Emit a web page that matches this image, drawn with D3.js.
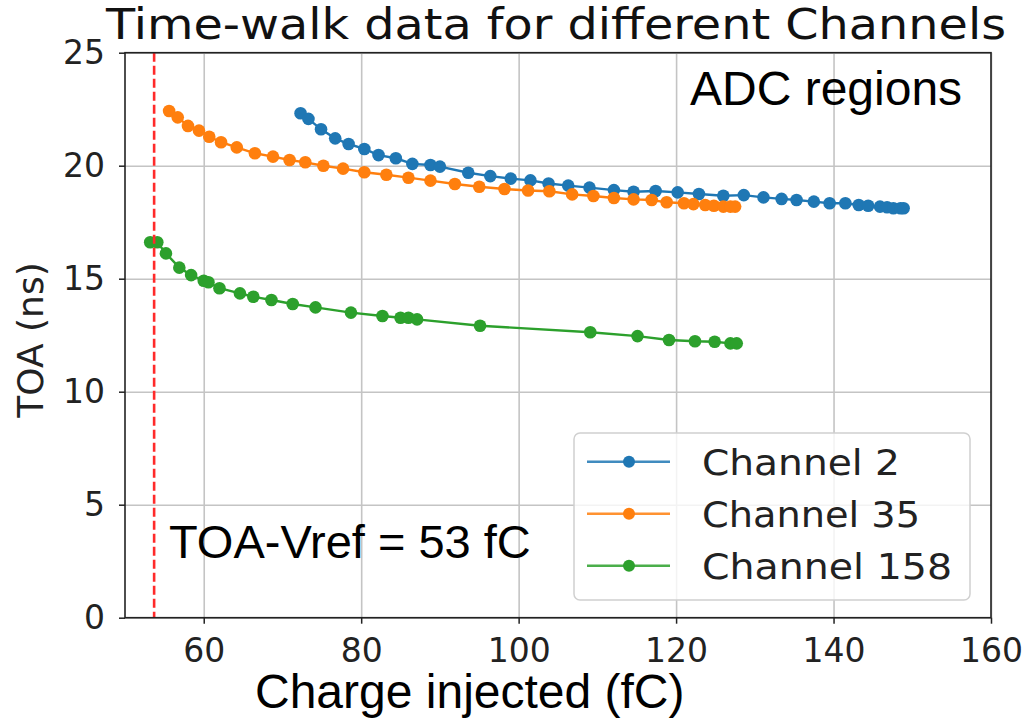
<!DOCTYPE html>
<html>
<head>
<meta charset="utf-8">
<script src="https://cdn.jsdelivr.net/npm/d3@7"></script>
<style>
  body { margin: 0; background: #fff; }
  svg { display: block; }
</style>
</head>
<body>
<svg id="chart" width="1029" height="720"></svg>
<script>
/* ── DATA ── */
const ch2Q = [72.3, 73.3, 74.9, 76.7, 78.4, 80.4, 82.2, 84.4, 86.5, 88.8, 90.0, 93.6, 96.4, 99.0, 101.5, 103.8,
  106.3, 109.0, 112.1, 114.6, 117.4, 120.2, 122.9, 126.0, 128.6, 131.1, 133.4, 135.3, 137.5, 139.5, 141.5,
  143.2, 144.4, 145.9, 146.8, 147.6, 148.5, 148.9];
const ch2T = [22.32, 22.07, 21.61, 21.21, 20.96, 20.74, 20.47, 20.33, 20.08, 20.03, 19.96, 19.69, 19.54, 19.43, 19.35, 19.21,
  19.12, 19.03, 18.92, 18.85, 18.88, 18.82, 18.75, 18.67, 18.70, 18.60, 18.53, 18.48, 18.41, 18.34, 18.34,
  18.26, 18.23, 18.19, 18.16, 18.12, 18.12, 18.12];

const ch35Q = [55.6, 56.7, 58.0, 59.4, 60.7, 62.2, 64.2, 66.5, 68.8, 70.9, 72.9, 75.2, 77.7, 80.4, 83.2, 86.0,
  88.8, 91.9, 95.0, 98.2, 101.2, 103.9, 106.8, 109.5, 112.1, 114.6, 116.9, 118.8, 121.0, 122.2, 123.7,
  124.8, 126.0, 126.9, 127.5];
const ch35T = [22.42, 22.14, 21.76, 21.55, 21.28, 21.04, 20.81, 20.55, 20.40, 20.25, 20.15, 20.00, 19.87, 19.71, 19.60, 19.47,
  19.34, 19.19, 19.07, 18.97, 18.90, 18.87, 18.73, 18.66, 18.57, 18.51, 18.48, 18.38, 18.34, 18.30, 18.26,
  18.23, 18.19, 18.19, 18.19];

const ch158Q = [53.2, 54.1, 55.2, 56.9, 58.4, 60.0, 60.6, 62.0, 64.6, 66.3, 68.6, 71.3, 74.2, 78.7, 82.7, 85.0,
  86.0, 87.1, 95.1, 109.1, 115.1, 119.1, 122.4, 124.9, 126.9, 127.7];
const ch158T = [16.61, 16.61, 16.12, 15.49, 15.16, 14.91, 14.84, 14.58, 14.35, 14.20, 14.06, 13.88, 13.73, 13.50, 13.35, 13.27,
  13.27, 13.20, 12.92, 12.63, 12.46, 12.29, 12.23, 12.21, 12.14, 12.14];

const seriesNames = ['Channel 2', 'Channel 35', 'Channel 158'];
const seriesColors = ['#1f77b4', '#ff7f0e', '#2ca02c'];
const xTicks = [60, 80, 100, 120, 140, 160];
const yTicks = [0, 5, 10, 15, 20, 25];
const vrefCharge = 53.7;

/* ── CHART ── */
(function () {
  const svg = d3.select('#chart');
  const L = 125, R = 991, T = 52.7, B = 617.7;

  const x = d3.scaleLinear().domain([50, 160]).range([L, R]);
  const y = d3.scaleLinear().domain([0, 25]).range([B, T]);

  const series = [
    { name: seriesNames[0], col: seriesColors[0], pts: ch2Q.map((q, i) => [q, ch2T[i]]) },
    { name: seriesNames[1], col: seriesColors[1], pts: ch35Q.map((q, i) => [q, ch35T[i]]) },
    { name: seriesNames[2], col: seriesColors[2], pts: ch158Q.map((q, i) => [q, ch158T[i]]) },
  ];

  // fit text to a given width (the original looks stretched sideways)
  function fitWidth(sel, w) {
    sel.attr('textLength', w).attr('lengthAdjust', 'spacingAndGlyphs');
  }

  // grid
  svg.append('g')
    .attr('transform', `translate(0,${B})`)
    .call(d3.axisBottom(x).tickValues(xTicks).tickSize(-(B - T)).tickFormat(''))
    .call(g => g.select('.domain').remove())
    .call(g => g.selectAll('line').attr('stroke', '#c4c4c4').attr('stroke-width', 1.6));
  svg.append('g')
    .attr('transform', `translate(${L},0)`)
    .call(d3.axisLeft(y).tickValues(yTicks).tickSize(-(R - L)).tickFormat(''))
    .call(g => g.select('.domain').remove())
    .call(g => g.selectAll('line').attr('stroke', '#c4c4c4').attr('stroke-width', 1.6));

  // series
  const line = d3.line().x(d => x(d[0])).y(d => y(d[1]));
  series.forEach(s => {
    const g = svg.append('g');
    g.append('path').datum(s.pts)
      .attr('fill', 'none').attr('stroke', s.col).attr('stroke-width', 2.4)
      .attr('d', line);
    g.selectAll('circle').data(s.pts).join('circle')
      .attr('cx', d => x(d[0])).attr('cy', d => y(d[1])).attr('r', 6.3)
      .attr('fill', s.col);
  });

  // TOA-Vref line
  svg.append('line')
    .attr('x1', x(vrefCharge)).attr('x2', x(vrefCharge))
    .attr('y1', T).attr('y2', B)
    .attr('stroke', '#ff2a2a').attr('stroke-width', 2.6).attr('stroke-dasharray', '9,4');

  // axes
  const xAx = svg.append('g')
    .attr('transform', `translate(0,${B})`)
    .call(d3.axisBottom(x).tickValues(xTicks).tickSize(6).tickPadding(8));
  const yAx = svg.append('g')
    .attr('transform', `translate(${L},0)`)
    .call(d3.axisLeft(y).tickValues(yTicks).tickSize(6).tickPadding(14));
  [xAx, yAx].forEach(a => {
    a.select('.domain').remove();
    a.selectAll('line').attr('stroke', '#222').attr('stroke-width', 1.5);
    a.selectAll('text').attr('fill', '#222')
      .style('font-family', 'DejaVu Sans').style('font-size', '33px');
  });
  xAx.selectAll('text').attr('dy', '0.92em');

  // frame
  svg.append('rect')
    .attr('x', L).attr('y', T).attr('width', R - L).attr('height', B - T)
    .attr('fill', 'none').attr('stroke', '#222').attr('stroke-width', 1.6);

  // legend
  const lg = svg.append('g');
  lg.append('rect')
    .attr('x', 574).attr('y', 433).attr('width', 396).attr('height', 167).attr('rx', 6)
    .attr('fill', 'rgba(255,255,255,0.8)').attr('stroke', '#d0d0d0').attr('stroke-width', 1.5);
  const lgW = [198, 218, 250];
  series.forEach((s, i) => {
    const cy = 461.7 + i * 52;
    lg.append('line').attr('x1', 587).attr('x2', 670).attr('y1', cy).attr('y2', cy)
      .attr('stroke', s.col).attr('stroke-width', 2.6).attr('opacity', 0.85);
    lg.append('circle').attr('cx', 629).attr('cy', cy).attr('r', 6).attr('fill', s.col);
    lg.append('text').attr('x', 702).attr('y', cy + 13)
      .attr('fill', '#222').style('font-family', 'DejaVu Sans').style('font-size', '35px')
      .text(s.name)
      .call(fitWidth, lgW[i]);
  });

  // title
  svg.append('text')
    .attr('x', 106).attr('y', 39)
    .attr('fill', '#111').style('font-family', 'DejaVu Sans').style('font-size', '42px')
    .text('Time-walk data for different Channels')
    .call(fitWidth, 900);

  // axis labels
  svg.append('text')
    .attr('x', 255).attr('y', 708)
    .attr('fill', '#000').style('font-family', 'Liberation Sans, Arial').style('font-size', '48px')
    .text('Charge injected (fC)');
  svg.append('text')
    .attr('transform', 'translate(43,340) rotate(-90)').attr('text-anchor', 'middle')
    .attr('fill', '#222').style('font-family', 'DejaVu Sans').style('font-size', '36px')
    .text('TOA (ns)');

  // annotations
  svg.append('text')
    .attr('x', 690).attr('y', 105)
    .attr('fill', '#000').style('font-family', 'Liberation Sans, Arial').style('font-size', '48px')
    .text('ADC regions');
  svg.append('text')
    .attr('x', 169).attr('y', 558)
    .attr('fill', '#000').style('font-family', 'Liberation Sans, Arial').style('font-size', '47px')
    .text('TOA-Vref = 53 fC');
})();
</script>
</body>
</html>
